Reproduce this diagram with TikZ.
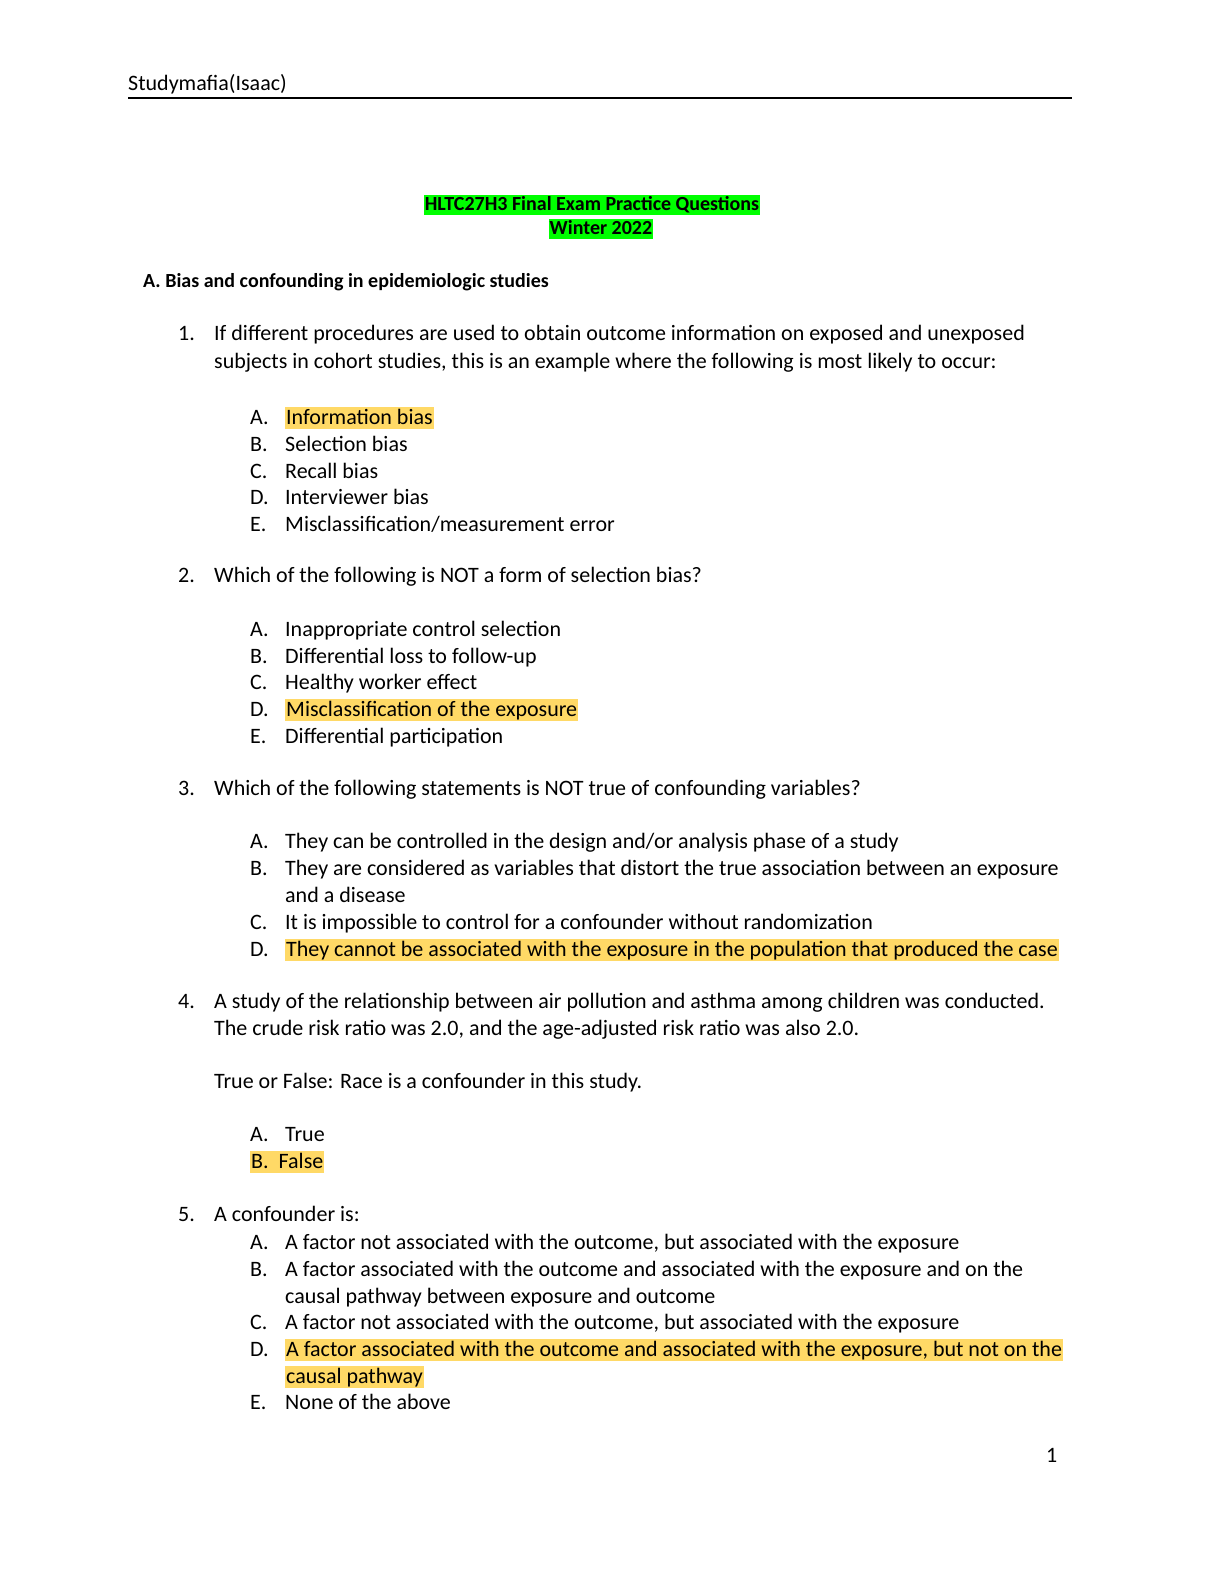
\documentclass[tikz,border=0pt]{standalone}
\usepackage{fontspec}
\setmainfont{Carlito}
\definecolor{hl}{HTML}{FFD966}
\definecolor{gr}{HTML}{00FF00}
\begin{document}
\begin{tikzpicture}[x=1pt,y=-1pt,
  t/.style={anchor=base west,inner sep=0pt,font=\fontsize{22}{26}\selectfont},
  h/.style={t,fill=hl,inner xsep=1pt,text depth=5pt,text height=17pt},
  g/.style={anchor=base,inner sep=0pt,fill=gr,inner xsep=1pt,text depth=5pt,text height=15pt,font=\fontsize{20}{24}\selectfont\bfseries}]
\useasboundingbox (0,0) rectangle (1224,1584);
\node[t] (hdr) at (128,91) {Studymafia(Isaac)};
\draw[line width=2pt] (128,98) coordinate (l1) -- (1072,98) coordinate (l2);
\node[g] (ti1) at (592,210) {HLTC27H3 Final Exam Practice Questions};
\node[g] (ti2) at (601,234) {Winter 2022};
\node[t,font=\fontsize{20}{24}\selectfont\bfseries] (sa) at (143,287) {A. Bias and confounding in epidemiologic studies};
% Q1
\node[t] (n1) at (178,340) {1.};
\node[t] (q1a) at (214,340) {If different procedures are used to obtain outcome information on exposed and unexposed};
\node[t] (q1b) at (214,368) {subjects in cohort studies, this is an example where the following is most likely to occur:};
\node[t] (a1l) at (250,424) {A.}; \node[h] (a1) at (285,424) {Information bias};
\node[t] (b1l) at (250,451) {B.}; \node[t] (b1) at (285,451) {Selection bias};
\node[t] (c1l) at (250,478) {C.}; \node[t] (c1) at (285,478) {Recall bias};
\node[t] (d1l) at (250,504) {D.}; \node[t] (d1) at (285,504) {Interviewer bias};
\node[t] (e1l) at (250,531) {E.}; \node[t] (e1) at (285,531) {Misclassification/measurement error};
% Q2
\node[t] (n2) at (178,582) {2.};
\node[t] (q2) at (214,582) {Which of the following is NOT a form of selection bias?};
\node[t] (a2l) at (250,636) {A.}; \node[t] (a2) at (285,636) {Inappropriate control selection};
\node[t] (b2l) at (250,663) {B.}; \node[t] (b2) at (285,663) {Differential loss to follow-up};
\node[t] (c2l) at (250,689) {C.}; \node[t] (c2) at (285,689) {Healthy worker effect};
\node[t] (d2l) at (250,716) {D.}; \node[h] (d2) at (285,716) {Misclassification of the exposure};
\node[t] (e2l) at (250,743) {E.}; \node[t] (e2) at (285,743) {Differential participation};
% Q3
\node[t] (n3) at (178,795) {3.};
\node[t] (q3) at (214,795) {Which of the following statements is NOT true of confounding variables?};
\node[t] (a3l) at (250,848) {A.}; \node[t] (a3) at (285,848) {They can be controlled in the design and/or analysis phase of a study};
\node[t] (b3l) at (250,875) {B.}; \node[t] (b3) at (285,875) {They are considered as variables that distort the true association between an exposure};
\node[t] (b3b) at (285,902) {and a disease};
\node[t] (c3l) at (250,929) {C.}; \node[t] (c3) at (285,929) {It is impossible to control for a confounder without randomization};
\node[t] (d3l) at (250,956) {D.}; \node[h] (d3) at (285,956) {They cannot be associated with the exposure in the population that produced the case};
% Q4
\node[t] (n4) at (178,1008) {4.};
\node[t] (q4a) at (214,1008) {A study of the relationship between air pollution and asthma among children was conducted.};
\node[t] (q4b) at (214,1035) {The crude risk ratio was 2.0, and the age-adjusted risk ratio was also 2.0.};
\node[t] (q4c) at (214,1088) {True or False: Race is a confounder in this study.};
\node[t] (a4l) at (250,1141) {A.}; \node[t] (a4) at (285,1141) {True};
\node[h] (b4) at (250,1168) {B.\ \ False};
% Q5
\node[t] (n5) at (178,1221) {5.};
\node[t] (q5) at (214,1221) {A confounder is:};
\node[t] (a5l) at (250,1249) {A.}; \node[t] (a5) at (285,1249) {A factor not associated with the outcome, but associated with the exposure};
\node[t] (b5l) at (250,1276) {B.}; \node[t] (b5) at (285,1276) {A factor associated with the outcome and associated with the exposure and on the};
\node[t] (b5b) at (285,1303) {causal pathway between exposure and outcome};
\node[t] (c5l) at (250,1329) {C.}; \node[t] (c5) at (285,1329) {A factor not associated with the outcome, but associated with the exposure};
\node[t] (d5l) at (250,1356) {D.}; \node[h] (d5) at (285,1356) {A factor associated with the outcome and associated with the exposure, but not on the};
\node[h] (d5b) at (285,1383) {causal pathway};
\node[t] (e5l) at (250,1409) {E.}; \node[t] (e5) at (285,1409) {None of the above};
\node[t] (pg) at (1046,1462) {1};
\end{tikzpicture}
\end{document}
